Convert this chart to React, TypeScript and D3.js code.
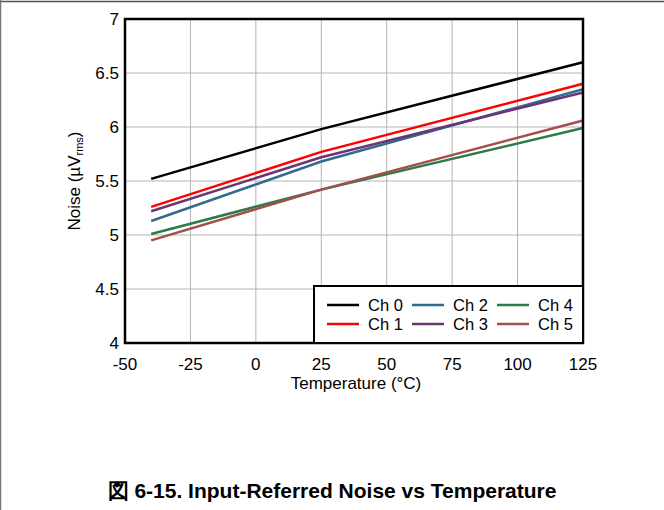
import React from "react";
import * as d3 from "d3";

const temps = [-40, 25, 125];
const ch0 = [5.52, 5.98, 6.6];
const ch1 = [5.26, 5.77, 6.4];
const ch2 = [5.13, 5.68, 6.35];
const ch3 = [5.22, 5.72, 6.32];
const ch4 = [5.01, 5.42, 5.99];
const ch5 = [4.95, 5.42, 6.06];
const seriesNames = ["Ch 0", "Ch 1", "Ch 2", "Ch 3", "Ch 4", "Ch 5"];
const seriesColors = ["#000000", "#ff0000", "#336b8c", "#6b3472", "#2f7a4c", "#a34f4a"];
const xTicks = [-50, -25, 0, 25, 50, 75, 100, 125];
const yTicks = [4, 4.5, 5, 5.5, 6, 6.5, 7];

const W = 664;
const H = 510;
const M = { left: 125, top: 19, right: 583, bottom: 343 };
const FONT = "'Liberation Sans', Arial, sans-serif";

export default function App() {
  const x = d3.scaleLinear().domain([-50, 125]).range([M.left, M.right]);
  const y = d3.scaleLinear().domain([4, 7]).range([M.bottom, M.top]);
  const all = [ch0, ch1, ch2, ch3, ch4, ch5];
  const line = d3
    .line<[number, number]>()
    .x((d) => x(d[0]))
    .y((d) => y(d[1]));
  const drawOrder = [0, 4, 5, 2, 3, 1];

  const legX = 314;
  const legY = 286;
  const legW = M.right - legX;
  const legH = M.bottom - legY;
  const colX = [327, 412, 497];
  const rowY = [305, 324];

  return (
    <svg
      width={W}
      height={H}
      style={{ position: "absolute", left: 0, top: 0, background: "#fff" }}
    >
      <line x1={0} y1={1.5} x2={W} y2={1.5} stroke="#555" strokeWidth={1.5} />
      <line x1={0.5} y1={0} x2={0.5} y2={H} stroke="#777" strokeWidth={1.5} />

      {xTicks.map((t) => (
        <line key={"gx" + t} x1={x(t)} x2={x(t)} y1={M.top} y2={M.bottom} stroke="#b4b4b4" strokeWidth={1} />
      ))}
      {yTicks.map((t) => (
        <line key={"gy" + t} x1={M.left} x2={M.right} y1={y(t)} y2={y(t)} stroke="#b4b4b4" strokeWidth={1} />
      ))}

      {drawOrder.map((i) => (
        <path
          key={seriesNames[i]}
          d={line(temps.map((t, j) => [t, all[i][j]] as [number, number])) || ""}
          fill="none"
          stroke={seriesColors[i]}
          strokeWidth={2.5}
        />
      ))}

      <rect
        x={M.left}
        y={M.top}
        width={M.right - M.left}
        height={M.bottom - M.top}
        fill="none"
        stroke="#000"
        strokeWidth={2.5}
      />

      {xTicks.map((t) => (
        <text key={"tx" + t} x={x(t)} y={370} textAnchor="middle" fontFamily={FONT} fontSize={17} fill="#000">
          {t}
        </text>
      ))}
      {yTicks.map((t) => (
        <text key={"ty" + t} x={119} y={y(t) + 6} textAnchor="end" fontFamily={FONT} fontSize={17} fill="#000">
          {t}
        </text>
      ))}

      <text x={356} y={389} textAnchor="middle" fontFamily={FONT} fontSize={17} fill="#000">
        Temperature (°C)
      </text>
      <text
        transform={`translate(80, 181) rotate(-90)`}
        textAnchor="middle"
        fontFamily={FONT}
        fontSize={17}
        fill="#000"
      >
        Noise (µV<tspan fontSize={11} dy={3}>rms</tspan>
        <tspan dy={-3}>)</tspan>
      </text>

      <rect x={legX} y={legY} width={legW} height={legH} fill="#fff" stroke="#000" strokeWidth={2} />
      {seriesNames.map((n, i) => {
        const col = Math.floor(i / 2);
        const row = i % 2;
        const lx = colX[col];
        const ly = rowY[row];
        return (
          <g key={"leg" + n}>
            <line x1={lx} x2={lx + 32} y1={ly} y2={ly} stroke={seriesColors[i]} strokeWidth={2.5} />
            <text x={lx + 41} y={ly + 6} fontFamily={FONT} fontSize={16.5} fill="#000">
              {n}
            </text>
          </g>
        );
      })}

      <text
        x={332}
        y={498}
        textAnchor="middle"
        fontFamily="'Liberation Sans', Arial, sans-serif"
        fontWeight="bold"
        fontSize={21}
        fill="#000"
      >
        図 6-15. Input-Referred Noise vs Temperature
      </text>
    </svg>
  );
}
